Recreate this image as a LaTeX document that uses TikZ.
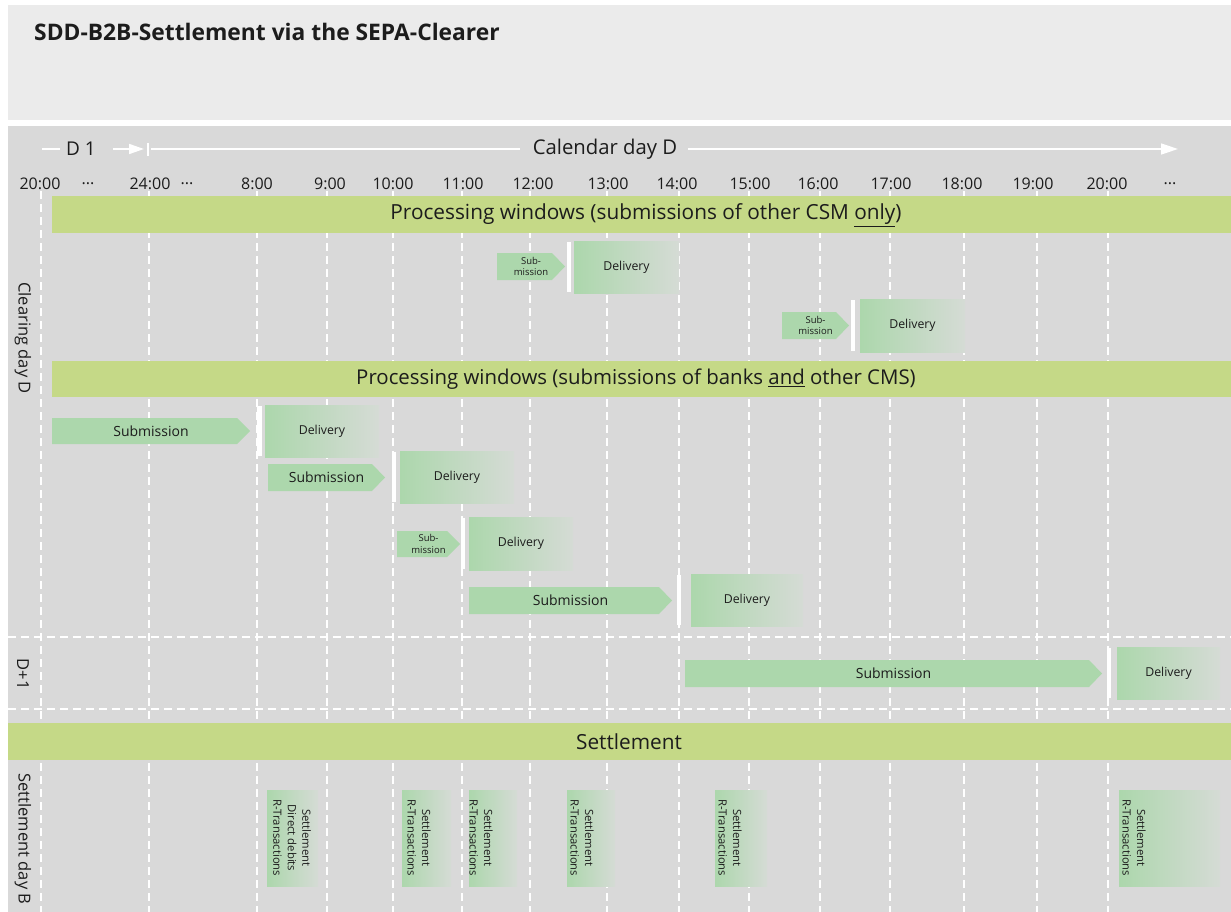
\documentclass[tikz,border=0pt]{standalone}
\usepackage{fontspec}
\setmainfont{Open Sans}
\usetikzlibrary{arrows.meta}
\definecolor{bggray}{RGB}{217,217,217}
\definecolor{hdrgray}{RGB}{235,235,235}
\definecolor{bargreen}{RGB}{197,217,135}
\definecolor{subgreen}{RGB}{172,215,172}
\definecolor{fadegray}{RGB}{213,219,213}
\definecolor{txt}{RGB}{28,28,28}
\tikzset{
  lbl/.style={text=txt, inner sep=0pt},
  vdash/.style={draw=white, line width=1.6pt, dash pattern=on 8pt off 5pt},
  hdash/.style={draw=white, line width=1.6pt, dash pattern=on 8pt off 5pt},
  timelbl/.style={lbl, font=\fontsize{16}{18}\selectfont},
  barlbl/.style={lbl, font=\fontsize{20.8}{23}\selectfont},
  sidelbl/.style={lbl, rotate=-90, font=\fontsize{16.5}{19}\selectfont},
  dellbl/.style={lbl, font=\fontsize{12.3}{14}\selectfont},
  sublbl/.style={lbl, font=\fontsize{14}{16}\selectfont},
  smallsub/.style={lbl, align=center, font=\fontsize{9.5}{11.5}\selectfont},
  setlbl/.style={lbl, rotate=-90, align=center, font=\fontsize{11.3}{14.5}\selectfont},
  wline/.style={draw=white, line width=1.6pt}
}
\newcommand{\SubArrow}[6]{% name, x1, xtip, ytop, ybot, style
  \fill[subgreen] (#2,#4) -- ({#3-13},#4) -- (#3,{(#4+#5)/2}) -- ({#3-13},#5) -- (#2,#5) -- cycle;
  \node[#6] (#1) at ({(#2+#3)/2},{(#4+#5)/2})}
\newcommand{\Deliv}[6]{% name, x1, x2, ytop, ybot, barx
  \fill[white] (#6,{#4+1}) rectangle ({#6+4.5},{#5-1});
  \shade[left color=subgreen, right color=fadegray] (#2,#4) rectangle (#3,#5);
  \node[dellbl] (#1) at ({(#2+#3)/2},{(#4+#5)/2}) {Delivery};}
\newcommand{\SetBox}[5]{% name, x1, x2, textx, text
  \shade[left color=subgreen, right color=fadegray] (#2,790) rectangle (#3,886);
  \node[setlbl] (#1) at (#4,838) {#5};}
\begin{document}
\begin{tikzpicture}[x=1pt,y=-1pt]
\useasboundingbox (0,0) rectangle (1231,912);
\fill[white] (0,0) rectangle (1231,912);
% header
\fill[hdrgray] (8,5) rectangle (1231,120);
\node[lbl, anchor=west, font=\bfseries\fontsize{22.8}{26}\selectfont] (title) at (34,32) {SDD-B2B-Settlement via the SEPA-Clearer};
% main area
\fill[bggray] (8,126) rectangle (1231,912);
% vertical dashed lines
\foreach \x in {41,149,257,327,393,462,530,607,679,749,820,890,964,1037,1108}
  \draw[vdash] (\x,191) -- (\x,912);
% horizontal dashed lines
\draw[hdash] (8,637) -- (1231,637);
\draw[hdash] (8,709) -- (1231,709);
% timeline arrow
\node[lbl, font=\fontsize{19}{22}\selectfont] (d1) at (81,149) {D 1};
\node[lbl, font=\fontsize{20.3}{23}\selectfont] (calD) at (605,149) {Calendar day D};
\coordinate (a0) at (42,149);
\coordinate (a1) at (60,149);
\coordinate (a2) at (113,149);
\coordinate (a3) at (144,149);
\coordinate (tk1) at (148,143);
\coordinate (tk2) at (148,156);
\coordinate (b0) at (151,149);
\coordinate (b1) at (520,149);
\coordinate (c0) at (688,149);
\coordinate (c1) at (1178,149);
\draw[wline] (a0) -- (a1);
\draw[wline, -{Triangle[length=15pt,width=10pt]}] (a2) -- (a3);
\draw[wline] (tk1) -- (tk2);
\draw[wline] (b0) -- (b1);
\draw[wline, -{Triangle[length=17pt,width=11pt]}] (c0) -- (c1);
% time labels
\node[timelbl] (t0) at (40,184) {20:00};
\node[timelbl] (t0a) at (88,184) {...};
\node[timelbl] (t1) at (150,184) {24:00};
\node[timelbl] (t1a) at (187,184) {...};
\node[timelbl] (t8) at (257,184) {8:00};
\node[timelbl] (t9) at (330,184) {9:00};
\node[timelbl] (t10) at (393,184) {10:00};
\node[timelbl] (t11) at (463,184) {11:00};
\node[timelbl] (t12) at (533,184) {12:00};
\node[timelbl] (t13) at (608,184) {13:00};
\node[timelbl] (t14) at (677,184) {14:00};
\node[timelbl] (t15) at (750,184) {15:00};
\node[timelbl] (t16) at (818,184) {16:00};
\node[timelbl] (t17) at (891,184) {17:00};
\node[timelbl] (t18) at (962,184) {18:00};
\node[timelbl] (t19) at (1033,184) {19:00};
\node[timelbl] (t20) at (1107,184) {20:00};
\node[timelbl] (tend) at (1170,184) {...};
% green bars
\fill[bargreen] (52,196) rectangle (1231,233);
\node[barlbl] (pw1) at (646,215) {Processing windows (submissions of other CSM \underline{only})};
\fill[bargreen] (52,361) rectangle (1231,397);
\node[barlbl, font=\fontsize{20.4}{23}\selectfont] (pw2) at (636,379) {Processing windows (submissions of banks \underline{and} other CMS)};
\fill[bargreen] (8,723) rectangle (1231,760);
\node[barlbl] (setbar) at (629,742) {Settlement};
% side labels
\node[sidelbl] (cdD) at (23,338) {Clearing day D};
\node[sidelbl] (dp1) at (23,674) {D+1};
\node[sidelbl] (sdB) at (23,839) {Settlement day B};
% row A
\SubArrow{sA}{497}{565}{253}{280}{smallsub}{Sub-\\mission};
\Deliv{dA}{574}{679}{241}{293}{566.5}
% row B
\SubArrow{sB}{782}{849}{312}{339}{smallsub}{Sub-\\mission};
\Deliv{dB}{860}{965}{299}{352}{850.5}
% row C
\SubArrow{sC}{52}{250}{418}{444}{sublbl}{Submission};
\Deliv{dC}{265}{379}{405}{457}{257}
% row D
\SubArrow{sD}{268}{385}{464}{491}{sublbl}{Submission};
\Deliv{dD}{400}{514}{451}{503}{391.5}
% row E
\SubArrow{sE}{397}{460}{531}{557}{smallsub}{Sub-\\mission};
\Deliv{dE}{469}{573}{517}{570}{460.5}
% row F
\SubArrow{sF}{469}{672}{587}{614}{sublbl}{Submission};
\Deliv{dF}{691}{803}{574}{626}{676.5}
% row G (D+1)
\SubArrow{sG}{685}{1102}{660}{687}{sublbl}{Submission};
\Deliv{dG}{1117}{1220}{647}{699}{1106.5}
% settlement boxes
\SetBox{sb1}{267}{318}{292}{Settlement\\Direct debits\\R-Transactions}
\SetBox{sb2}{402}{451}{419}{Settlement\\R-Transactions}
\SetBox{sb3}{469}{517}{481}{Settlement\\R-Transactions}
\SetBox{sb4}{567}{615}{582}{Settlement\\R-Transactions}
\SetBox{sb5}{715}{767}{730}{Settlement\\R-Transactions}
\SetBox{sb6}{1119}{1220}{1134}{Settlement\\R-Transactions}
\end{tikzpicture}
\end{document}
